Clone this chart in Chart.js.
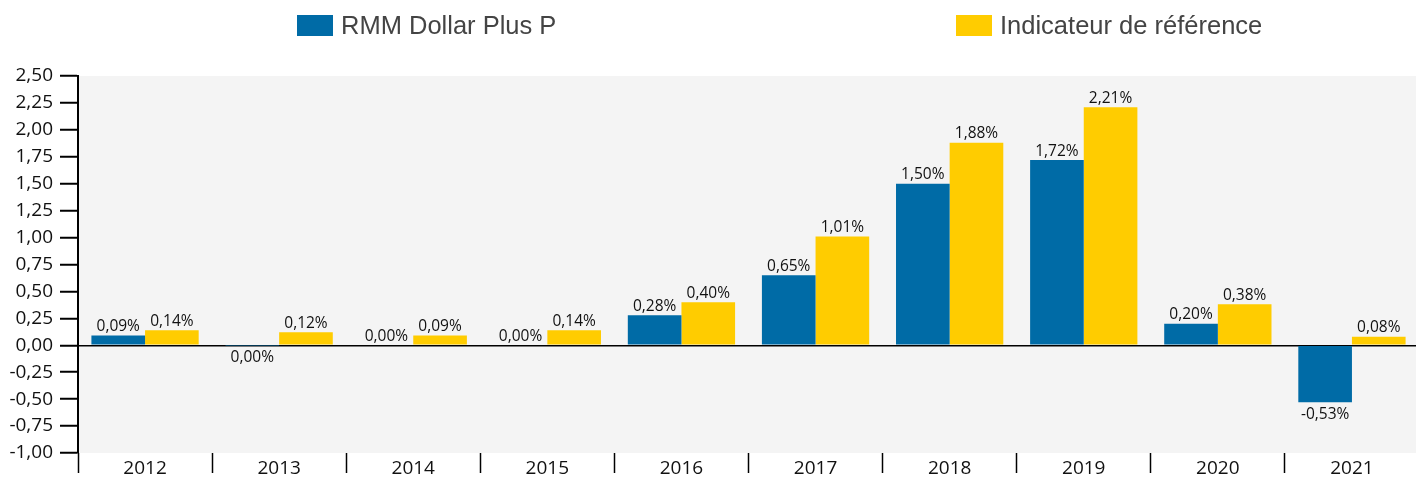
<!DOCTYPE html>
<html>
<head>
<meta charset="utf-8">
<script src="https://cdn.jsdelivr.net/npm/chart.js@4"></script>
<style>
  html, body { margin: 0; padding: 0; background: #fff; overflow: hidden; }
  #wrap { position: relative; width: 1419px; height: 477px; }
  #legend { position: absolute; top: 15px; left: 0; width: 1416px; height: 21px;
            font-family: "Liberation Sans", Arial, sans-serif; font-size: 25.5px; color: #444; }
  .item { position: absolute; top: 0; display: flex; align-items: center; height: 21px; line-height: 21px; white-space: nowrap; }
  .box { width: 36px; height: 21px; margin-right: 8px; }
</style>
</head>
<body>
<div id="wrap">
  <canvas id="chart" width="1419" height="477"></canvas>
  <div id="legend"></div>
</div>
<script>
// Data
const years = ['2012', '2013', '2014', '2015', '2016', '2017', '2018', '2019', '2020', '2021'];
const fundValues = [0.09, -0.001, 0.00, 0.00, 0.28, 0.65, 1.50, 1.72, 0.20, -0.53];
const benchValues = [0.14, 0.12, 0.09, 0.14, 0.40, 1.01, 1.88, 2.21, 0.38, 0.08];
const seriesNames = ['RMM Dollar Plus P', 'Indicateur de référence'];
const seriesColors = ['#006ba6', '#ffcc00'];
const legendLeft = [297, 956];

const fmt = v => (Math.abs(v) < 0.005 ? 0 : v).toFixed(2).replace('.', ',');

// html legend
const legend = document.getElementById('legend');
seriesNames.forEach((name, i) => {
    const item = document.createElement('div');
    item.className = 'item';
    item.style.left = legendLeft[i] + 'px';
    item.innerHTML = `<span class="box" style="background:${seriesColors[i]}"></span><span>${name}</span>`;
    legend.appendChild(item);
});

const plotBackground = {
    id: 'plotBackground',
    beforeDraw(chart) {
        const { ctx, chartArea: a } = chart;
        ctx.save();
        ctx.fillStyle = '#f4f4f4';
        ctx.fillRect(a.left, a.top, a.right - a.left, a.bottom - a.top);
        ctx.restore();
    }
};

const valueLabels = {
    id: 'valueLabels',
    afterDatasetsDraw(chart) {
        const ctx = chart.ctx;
        ctx.save();
        ctx.font = '15.5px "Open Sans"';
        ctx.fillStyle = '#111';
        ctx.textAlign = 'center';
        chart.data.datasets.forEach((ds, di) => {
            chart.getDatasetMeta(di).data.forEach((bar, i) => {
                const v = ds.data[i];
                if (v < 0) {
                    ctx.textBaseline = 'top';
                    ctx.fillText(fmt(v) + '%', bar.x, bar.y + 4);
                } else {
                    ctx.textBaseline = 'bottom';
                    ctx.fillText(fmt(v) + '%', bar.x, bar.y - 1);
                }
            });
        });
        ctx.restore();
    }
};

new Chart(document.getElementById('chart'), {
    type: 'bar',
    data: {
        labels: years,
        datasets: [
            { label: seriesNames[0], data: fundValues, backgroundColor: seriesColors[0] },
            { label: seriesNames[1], data: benchValues, backgroundColor: seriesColors[1] }
        ]
    },
    options: {
        responsive: false,
        animation: false,
        events: [],
        categoryPercentage: 0.8,
        barPercentage: 1,
        layout: { padding: { top: 76, right: 0, left: 0, bottom: 0 } },
        plugins: {
            legend: { display: false },
            tooltip: { enabled: false }
        },
        scales: {
            x: {
                grid: { offset: true, drawOnChartArea: false, tickLength: 20, tickColor: '#000', tickWidth: 1.5 },
                border: { display: false },
                ticks: { color: '#111', font: { family: 'Open Sans', size: 19 }, padding: -16 },
                afterFit(scale) { scale.height = 24; }
            },
            y: {
                min: -1,
                max: 2.5,
                ticks: {
                    stepSize: 0.25,
                    color: '#111',
                    font: { family: 'Open Sans', size: 19 },
                    padding: 7,
                    callback: v => fmt(v)
                },
                grid: {
                    color: c => (c.tick && c.tick.value === 0 ? '#000' : 'transparent'),
                    lineWidth: 1.5,
                    tickColor: '#000',
                    tickWidth: 2,
                    tickLength: 18
                },
                border: { color: '#000', width: 2 },
                afterFit(scale) { scale.width = 78; }
            }
        }
    },
    plugins: [plotBackground, valueLabels]
});
</script>
</body>
</html>
